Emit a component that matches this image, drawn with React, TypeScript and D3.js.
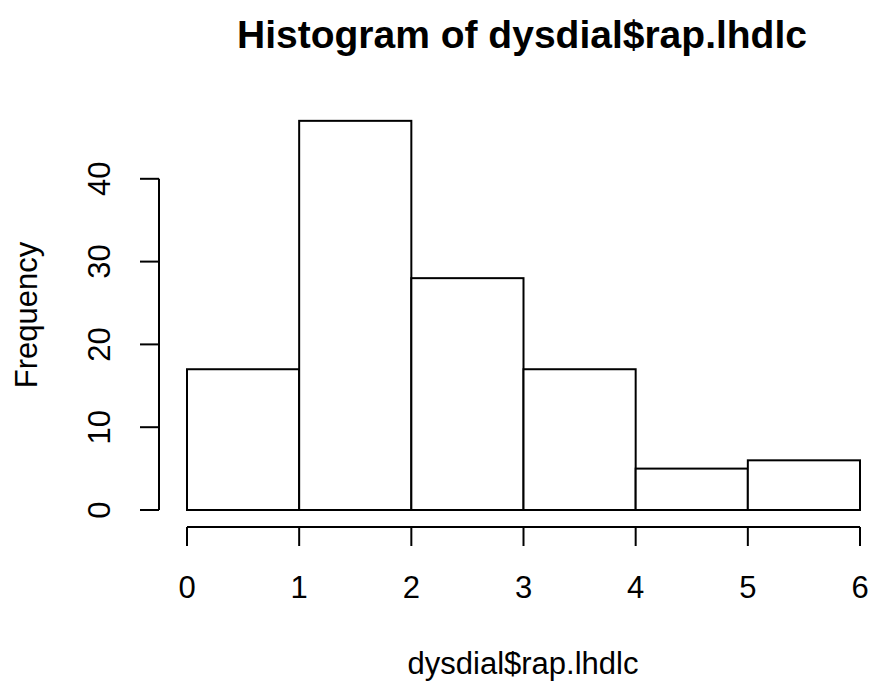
import React from 'react';
import { scaleLinear } from 'd3';

const breaks = [0, 1, 2, 3, 4, 5, 6];
const counts = [17, 47, 28, 17, 5, 6];
const yTicks = [0, 10, 20, 30, 40];
const xTicks = [0, 1, 2, 3, 4, 5, 6];

const title = 'Histogram of dysdial$rap.lhdlc';
const xLabel = 'dysdial$rap.lhdlc';
const yLabel = 'Frequency';

const width = 869;
const height = 681;
const font = '"Liberation Sans", Arial, sans-serif';

export default function App() {
    // plot region as R draws it
    const xScale = scaleLinear().domain([0, 6]).range([187, 860]);
    const yScale = scaleLinear().domain([0, 40]).range([510, 178.8]);

    const axisX = 159;     // y axis line position
    const axisY = 527;     // x axis line position
    const tickLen = 19;

    return (
        <div style={{ position: 'absolute', left: 0, top: 0 }}>
            <svg width={width} height={height} style={{ display: 'block', background: 'white' }}>
                <text x={522} y={48} textAnchor="middle" fontFamily={font} fontWeight="bold" fontSize={39}>{title}</text>

                {/* bars */}
                {counts.map((c, i) => (
                    <rect key={i}
                        x={xScale(breaks[i])}
                        y={yScale(c)}
                        width={xScale(breaks[i + 1]) - xScale(breaks[i])}
                        height={yScale(0) - yScale(c)}
                        fill="white" stroke="black" strokeWidth={2} />
                ))}

                {/* y axis */}
                <line x1={axisX} x2={axisX} y1={yScale(0)} y2={yScale(40)} stroke="black" strokeWidth={2} />
                {yTicks.map(t => (
                    <g key={t} transform={`translate(${axisX}, ${yScale(t)})`}>
                        <line x1={-tickLen} x2={0} stroke="black" strokeWidth={2} />
                        <text transform={`translate(-49, 0) rotate(-90)`} textAnchor="middle" fontFamily={font} fontSize={31}>{t}</text>
                    </g>
                ))}

                {/* x axis */}
                <line x1={xScale(0)} x2={xScale(6)} y1={axisY} y2={axisY} stroke="black" strokeWidth={2} />
                {xTicks.map(t => (
                    <g key={t} transform={`translate(${xScale(t)}, ${axisY})`}>
                        <line y1={0} y2={tickLen} stroke="black" strokeWidth={2} />
                        <text y={71} textAnchor="middle" fontFamily={font} fontSize={31}>{t}</text>
                    </g>
                ))}

                <text x={523} y={674} textAnchor="middle" fontFamily={font} fontSize={31}>{xLabel}</text>
                <text transform={`translate(37, 315) rotate(-90)`} textAnchor="middle" fontFamily={font} fontSize={31}>{yLabel}</text>
            </svg>
        </div>
    );
}
